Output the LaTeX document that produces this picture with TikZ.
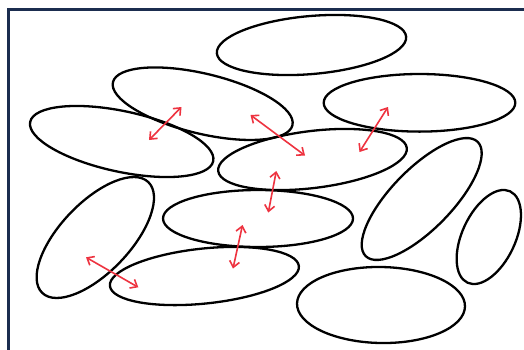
\documentclass[tikz,border=0pt]{standalone}
\usetikzlibrary{shapes.geometric,arrows.meta}
\definecolor{framecol}{HTML}{1B2D4F}
\definecolor{arrred}{HTML}{EE3340}
\tikzset{
  blob/.style={ellipse, draw=black, line width=2.3pt, inner sep=0pt, outer sep=0pt},
  push/.style={draw=arrred, line width=1.6pt, {Straight Barb[length=6pt,width=10pt]}-{Straight Barb[length=6pt,width=10pt]}},
  framestyle/.style={draw=framecol, line width=2.6pt}
}
\begin{document}
\begin{tikzpicture}[x=1pt,y=-1pt]
\useasboundingbox (0,0) rectangle (524,349);
\fill[white] (0,0) rectangle (524,349);
% frame
\coordinate (fbl) at (8.5,350);
\coordinate (ftl) at (8.5,9.5);
\coordinate (ftr) at (525,9.5);
\draw[framestyle] (fbl) -- (ftl) -- (ftr);
% ellipses
\node[blob, minimum width=190pt, minimum height=58pt, rotate=5] (e1) at (311.5,45) {};
\node[blob, minimum width=184.6pt, minimum height=60pt, rotate=-13.5] (e2) at (202.7,103.7) {};
\node[blob, minimum width=187.2pt, minimum height=60.6pt, rotate=-12.1] (e3) at (121.7,141.5) {};
\node[blob, minimum width=191.6pt, minimum height=57.6pt, rotate=0] (e4) at (419.5,102.8) {};
\node[blob, minimum width=190pt, minimum height=57pt, rotate=7] (e5) at (312.5,159.5) {};
\node[blob, minimum width=190pt, minimum height=57pt, rotate=0] (e6) at (258,218.5) {};
\node[blob, minimum width=153.4pt, minimum height=69.8pt, rotate=46.3] (e7) at (95.3,237.5) {};
\node[blob, minimum width=190pt, minimum height=55pt, rotate=6] (e8) at (204.4,276) {};
\node[blob, minimum width=160pt, minimum height=60.4pt, rotate=45.6] (e9) at (421.7,199) {};
\node[blob, minimum width=100.8pt, minimum height=53.2pt, rotate=65] (e10) at (488.8,237) {};
\node[blob, minimum width=168pt, minimum height=76pt, rotate=-1] (e11) at (381,305) {};
% arrows
\coordinate (a1s) at (149,140);   \coordinate (a1e) at (181.5,107);
\coordinate (a2s) at (250.5,115); \coordinate (a2e) at (305,155.5);
\coordinate (a3s) at (359.5,152); \coordinate (a3e) at (388,107);
\coordinate (a4s) at (268.3,212.5); \coordinate (a4e) at (276.3,171);
\coordinate (a5s) at (233,268.5); \coordinate (a5e) at (242.5,225);
\coordinate (a6s) at (86,257.3); \coordinate (a6e) at (138.3,287.3);
\draw[push] (a1s) -- (a1e);
\draw[push] (a2s) -- (a2e);
\draw[push] (a3s) -- (a3e);
\draw[push] (a4s) -- (a4e);
\draw[push] (a5s) -- (a5e);
\draw[push] (a6s) -- (a6e);
\end{tikzpicture}
\end{document}
